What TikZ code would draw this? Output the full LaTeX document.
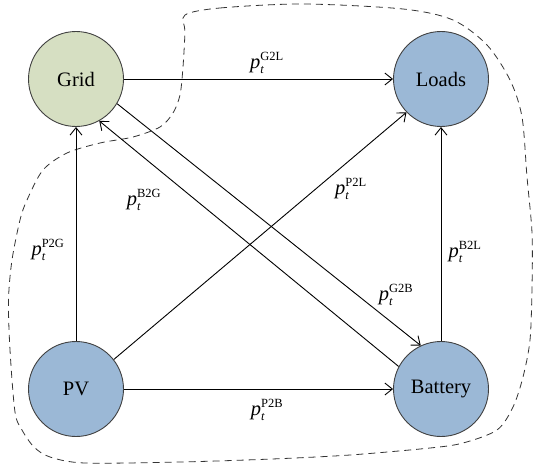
\documentclass[tikz,border=0pt]{standalone}
\usepackage{fix-cm}
\usepackage{fontspec}
\setmainfont{Liberation Serif}
\usetikzlibrary{arrows.meta}
\definecolor{gridgreen}{RGB}{214,223,194}
\definecolor{nodeblue}{RGB}{155,184,214}
\newcommand\pflow[1]{$\textit{p}_{\mbox{\fontsize{12.5}{12.5}\selectfont\itshape t}}^{\mbox{\fontsize{12.5}{12.5}\selectfont #1}}$}
\begin{document}
\begin{tikzpicture}[x=1pt,y=-1pt,
  state/.style={circle, draw=black!75, line width=0.9pt, minimum size=95pt, inner sep=0pt, font=\fontsize{20.5}{24}\selectfont},
  flow/.style={draw, line width=0.9pt, -{Straight Barb[length=7.5pt,width=12pt]}},
  lbl/.style={inner sep=0pt, font=\fontsize{20.5}{24}\selectfont},
  region/.style={draw=black!80, line width=0.8pt, dash pattern=on 7pt off 5pt}]
\useasboundingbox (0,0) rectangle (534,468);
\draw[region] plot[smooth cycle, tension=0.5] coordinates {
 (185,15) (220,8) (303,4) (403,9) (453,20) (487,45) (510,80) (522,117)
 (527,177) (532,233) (532,287) (530,340) (523,377) (513,407) (497,430)
 (463,443) (430,448) (350,455) (272,459) (180,462) (85,463) (50,457)
 (34,447) (22,430) (15,412) (10,350) (8.5,300) (12,260) (20,220) (27,200)
 (43,170) (67,153) (100,143) (133,137) (160,127) (173,113) (180,95)
 (183,67) (185,32)};
\node[state, fill=gridgreen] (G) at (76,79) {Grid};
\node[state, fill=nodeblue] (L) at (441,79) {Loads};
\node[state, fill=nodeblue] (P) at (76,389) {PV};
\node[state, fill=nodeblue] (B) at (441,389) {Battery};
\draw[flow] (G) -- (L);
\draw[flow] (P) -- (G);
\draw[flow] (P.38) -- (L.-136);
\draw[flow] (P) -- (B);
\draw[flow] (B) -- (L);
\draw[flow] (G.-31) -- (B.115);
\draw[flow] (B.152) -- (G.-61);
\node[lbl] (lG2L) at (267,63) {\pflow{G2L}};
\node[lbl] (lP2L) at (351,189) {\pflow{P2L}};
\node[lbl] (lB2G) at (144,200) {\pflow{B2G}};
\node[lbl] (lP2G) at (48,250) {\pflow{P2G}};
\node[lbl] (lG2B) at (396,295) {\pflow{G2B}};
\node[lbl] (lB2L) at (465,252) {\pflow{B2L}};
\node[lbl] (lP2B) at (267,410) {\pflow{P2B}};
\end{tikzpicture}
\end{document}
